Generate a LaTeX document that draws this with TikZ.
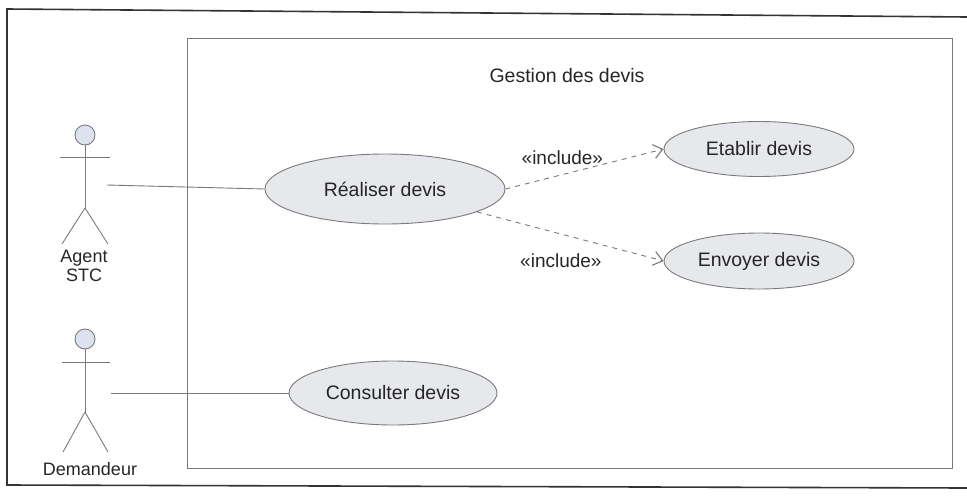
\documentclass[tikz,border=0pt]{standalone}
\usepackage{fontspec}
\setmainfont{Liberation Sans}
\usetikzlibrary{arrows.meta,shapes.geometric}
\definecolor{ucfill}{HTML}{E6E8EC}
\definecolor{ucline}{HTML}{7A7A7A}
\definecolor{headfill}{HTML}{DDE3EE}
\tikzset{
  usecase/.style={ellipse, draw=ucline, fill=ucfill, line width=0.9pt, inner sep=0pt,
                  font=\fontsize{19.5}{21}\selectfont, text=black!85},
  assoc/.style={draw=ucline, line width=0.9pt},
  incl/.style={draw=ucline, line width=0.9pt, dash pattern=on 5pt off 5pt,
               -{Straight Barb[length=9pt,width=14pt,line width=1.1pt]}},
  lbl/.style={font=\fontsize{18}{20}\selectfont, text=black!85, inner sep=0pt},
  stereo/.style={font=\fontsize{19}{21}\selectfont, text=black!85, inner sep=0pt},
  limb/.style={draw=ucline, line width=0.9pt},
}
\begin{document}
\begin{tikzpicture}[x=1pt,y=-1pt]
\useasboundingbox (0,0) rectangle (967,501);
\fill[white] (0,0) rectangle (967,501);
% page frame
\draw[black!80, line width=1.6pt] (967,17) -- (7,9) -- (7,485) -- (967,488);
% system boundary
\draw[ucline, line width=1pt] (187,38) rectangle (952,468);
\node[lbl, font=\fontsize{19.5}{21}\selectfont] (sys) at (567,76) {Gestion des devis};

% actor: Agent STC
\draw[limb, fill=headfill] (85,135) circle (10);
\coordinate (a1neck) at (85,145);
\coordinate (a1hip) at (85,208);
\draw[limb] (a1neck) -- (a1hip);
\draw[limb] (60,157) -- (110,157);
\draw[limb] (a1hip) -- (62,244);
\draw[limb] (a1hip) -- (108,244);
\node[lbl, align=center] (agent) at (84,266) {Agent\\[-1pt]STC};
\coordinate (agentend) at (107,185);

% actor: Demandeur
\draw[limb, fill=headfill] (85,339) circle (10);
\coordinate (a2neck) at (85,349);
\coordinate (a2hip) at (85,412);
\draw[limb] (a2neck) -- (a2hip);
\draw[limb] (62,362) -- (110,362);
\draw[limb] (a2hip) -- (63,452);
\draw[limb] (a2hip) -- (108,452);
\node[lbl] (dem) at (90,469) {Demandeur};
\coordinate (demend) at (111,393);

% use cases
\node[usecase, minimum width=240pt, minimum height=70pt] (real) at (385,189) {Réaliser devis};
\node[usecase, minimum width=190pt, minimum height=55pt] (etab) at (759,149) {Etablir devis};
\node[usecase, minimum width=190pt, minimum height=56pt] (env) at (759,261) {Envoyer devis};
\node[usecase, minimum width=208pt, minimum height=64pt] (cons) at (393,393) {Consulter devis};

% associations
\draw[assoc] (agentend) -- (real.west);
\draw[assoc] (demend) -- (cons.west);

% include relations
\draw[incl] (real.east) -- (etab.west) node[stereo, pos=0.36, above=9pt] (i1) {«include»};
\draw[incl] (real.-14) -- (env.west) node[stereo, pos=0.45, below=19pt] (i2) {«include»};
\end{tikzpicture}
\end{document}
